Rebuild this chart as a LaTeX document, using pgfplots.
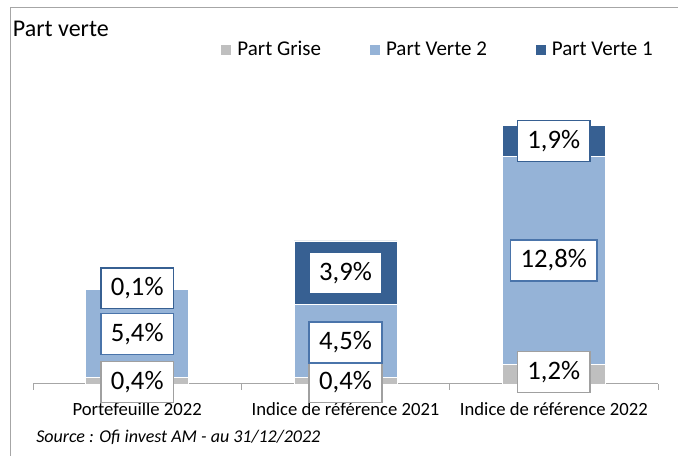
\documentclass[border=0pt]{standalone}
\usepackage{fontspec}
\setmainfont{Carlito}
\usepackage{pgfplots}
\pgfplotsset{compat=1.18}
\definecolor{grise}{HTML}{BFBFBF}
\definecolor{verteB}{HTML}{95B3D7}
\definecolor{verteA}{HTML}{376092}
\definecolor{lblgrey}{HTML}{A0A0A0}
\definecolor{lblblue}{HTML}{4A74AA}
\definecolor{axisgray}{HTML}{A6A6A6}
\definecolor{framegray}{HTML}{A6A6A6}
\pgfplotsset{base/.style={at={(24.75pt,54pt)}, anchor=south west, scale only axis,
  width=468.75pt, height=207.19pt, xmin=-0.5, xmax=2.5, ymin=0, ymax=17}}
\begin{document}
\begin{tikzpicture}
\useasboundingbox (0,0) rectangle (508.5pt,342pt);
\draw[color=framegray, line width=0.75pt] (7.5pt,0) -- (7.5pt,336pt) -- (508.5pt,336pt);
\node[anchor=base west, inner sep=0pt, font=\fontsize{18}{21}\selectfont] at (9.5pt,314.5pt) {Part verte};
\node[anchor=base west, inner sep=0pt, font=\fontsize{13.5}{16}\selectfont\itshape] at (27pt,9.75pt) {Source : Ofi invest AM - au 31/12/2022};
\begin{axis}[base, ybar stacked, bar width=77.25pt,
  axis y line=none, axis x line*=bottom,
  x axis line style={-, draw=axisgray, line width=0.75pt},
  xtick={0,1,2},
  xticklabels={Portefeuille 2022, Indice de référence 2021, Indice de référence 2022},
  major tick length=0pt, tick align=outside,
  tick style={draw=axisgray, line width=0.75pt},
  extra x ticks={-0.5,0.5,1.5,2.5}, extra x tick labels={},
  extra x tick style={major tick length=4.5pt},
  xticklabel style={font=\fontsize{14}{16}\selectfont, anchor=base, inner sep=0pt, yshift=-24pt},
  legend columns=3,
  legend image code/.code={\fill[#1] (0pt,-4.1pt) rectangle (8.25pt,4.1pt);},
  legend style={at={(0.2995,1.210)}, anchor=west, draw=none, fill=none, inner sep=0pt,
    font=\fontsize{15.75}{19}\selectfont,
    nodes={inner sep=0pt, anchor=west},
    /tikz/every odd column/.append style={column sep=4pt},
    /tikz/every even column/.append style={column sep=36pt}},
]
\addplot[fill=grise, draw=white, line width=0.5pt] coordinates {(0,0.4) (1,0.4) (2,1.2)};
\addplot[fill=verteB, draw=white, line width=0.5pt] coordinates {(0,5.4) (1,4.5) (2,12.8)};
\addplot[fill=verteA, draw=white, line width=0.5pt] coordinates {(0,0.1) (1,3.9) (2,1.9)};
\legend{Part Grise, Part Verte 2, Part Verte 1}
\end{axis}
\begin{axis}[base, hide axis, point meta=explicit,
  nodes near coords={\pgfmathprintnumber[fixed,fixed zerofill,precision=1,use comma,assume math mode=true]{\pgfplotspointmeta}\%},
  every node near coord/.append style={anchor=center, fill=white, text=black,
    font=\fontsize{20}{23}\selectfont, inner xsep=7.5pt, inner ysep=0pt,
    minimum height=30.5pt, line width=1.1pt}]
\addplot[draw=none, nodes near coords style={draw=lblgrey}] table[x=x,y=y,meta=v] {
x y v
0 0.12 0.4
1 0.12 0.4
2 0.74 1.2
};
\addplot[draw=none, nodes near coords style={draw=lblblue}] table[x=x,y=y,meta=v] {
x y v
0 3.08 5.4
1 2.55 4.5
2 7.60 12.8
};
\addplot[draw=none, nodes near coords style={draw=verteA}] table[x=x,y=y,meta=v] {
x y v
0 5.90 0.1
1 6.83 3.9
2 14.95 1.9
};
\end{axis}
\end{tikzpicture}
\end{document}
